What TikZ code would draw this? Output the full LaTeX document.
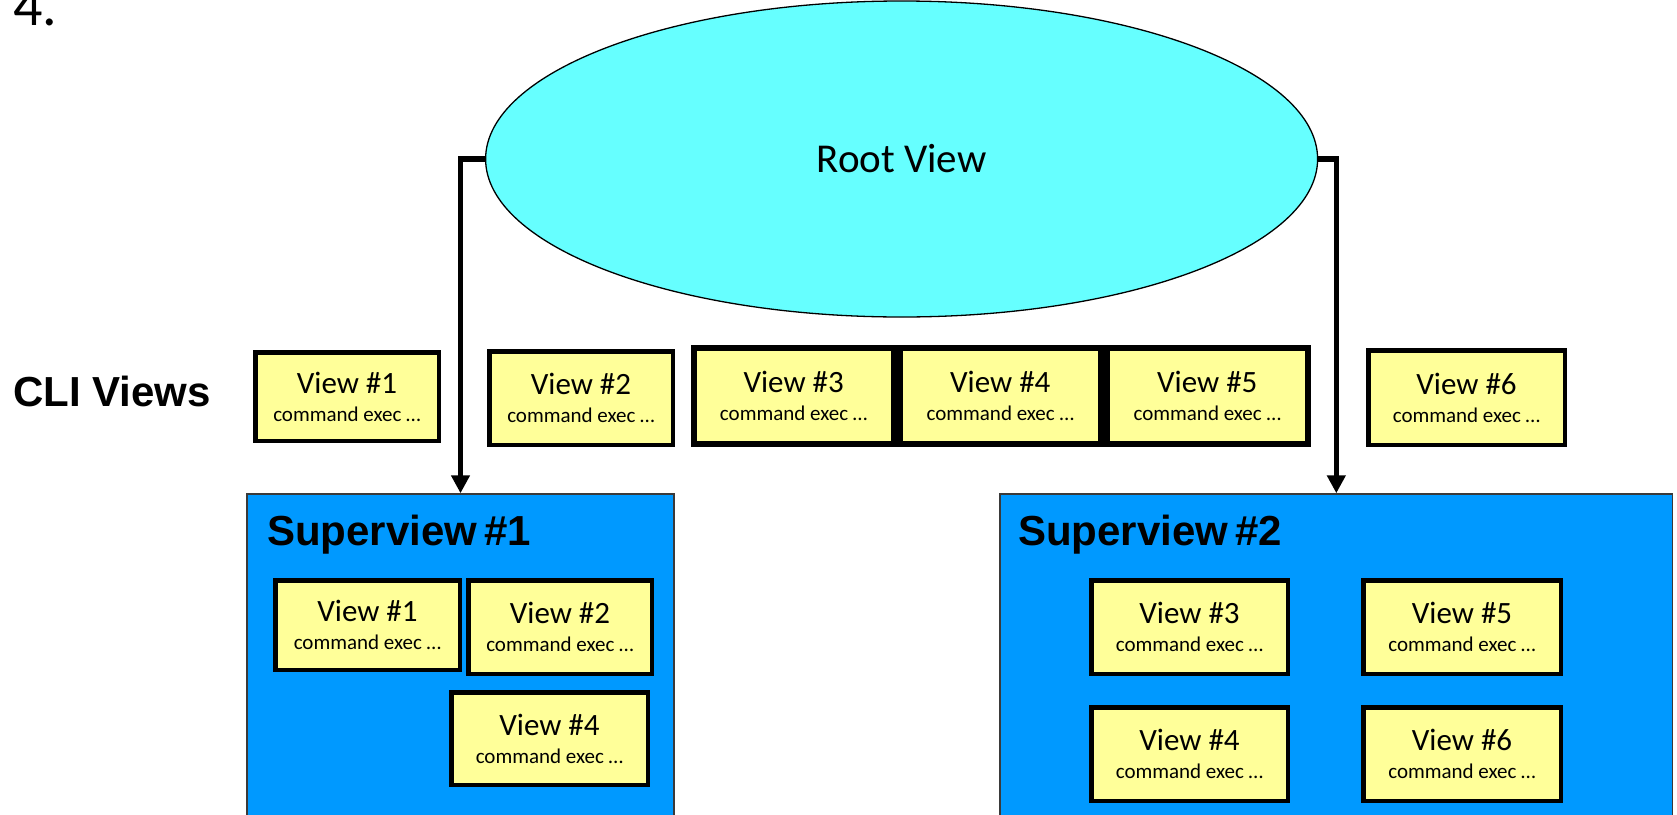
\documentclass[tikz,border=0pt]{standalone}
\usepackage{fontspec}
\setmainfont{Carlito}
\newfontfamily\arialfont{Liberation Sans}
\usetikzlibrary{shapes.geometric,arrows.meta}
\definecolor{rootcyan}{HTML}{66FFFF}
\definecolor{svblue}{HTML}{0099FF}
\definecolor{viewyellow}{HTML}{FFFF99}
\definecolor{svborder}{HTML}{3A3A3A}
\newcommand\vtxt[1]{View \##1\\{\fontsize{21}{28}\selectfont command exec …}}
\tikzset{
  viewbox/.style={draw=black, line width=4.5pt, fill=viewyellow, align=center,
    inner sep=0pt, font=\fontsize{31}{28}\selectfont},
  thickview/.style={viewbox, line width=6pt},
  superbox/.style={draw=svborder, line width=1.5pt, fill=svblue, inner sep=0pt},
  suptitle/.style={font=\arialfont\bfseries\fontsize{42}{48}\selectfont, inner sep=0pt, anchor=base west},
  conn/.style={line width=5.5pt, -{Triangle[width=18pt,length=18pt]}},
}
\begin{document}
\begin{tikzpicture}[x=1pt,y=-1pt]
\useasboundingbox (0,0) rectangle (1677,814);
\clip (0,0) rectangle (1677,814);
% heading
\node[font=\fontsize{58}{60}\selectfont, inner sep=0pt, anchor=base west] (num) at (13,25) {4.};
% root
\node[ellipse, draw=black, line width=1.3pt, fill=rootcyan, minimum width=832pt, minimum height=316pt, inner sep=0pt,
  font=\fontsize{41}{48}\selectfont] (root) at (901.6,159) {Root View};
% superviews
\node[superbox, minimum width=427pt, minimum height=340pt] (sv1) at (460.5,664) {};
\node[superbox, minimum width=672.7pt, minimum height=340pt] (sv2) at (1336.3,664) {};
\node[suptitle] (sv1t) at (267,545) {Superview\,\#1};
\node[suptitle] (sv2t) at (1018,545) {Superview\,\#2};
% CLI views label
\node[font=\arialfont\bfseries\fontsize{42}{48}\selectfont, inner sep=0pt, anchor=base west] (cli) at (13,406) {CLI Views};
% top row
\node[viewbox, minimum width=183.5pt, minimum height=88.5pt] (tv1) at (347,396.5) {\vtxt{1}};
\node[viewbox, minimum width=183.5pt, minimum height=93.5pt] (tv2) at (581,398) {\vtxt{2}};
\node[thickview, minimum width=200pt, minimum height=96pt] (tv3) at (793.7,396) {\vtxt{3}};
\node[thickview, minimum width=201pt, minimum height=96pt] (tv4) at (1000.3,396) {\vtxt{4}};
\node[thickview, minimum width=200.7pt, minimum height=96pt] (tv5) at (1207.3,396) {\vtxt{5}};
\node[viewbox, minimum width=196.5pt, minimum height=94.5pt] (tv6) at (1466.5,397.5) {\vtxt{6}};
% superview 1 contents
\node[viewbox, minimum width=184.5pt, minimum height=89.5pt] (s1v1) at (367.5,625) {\vtxt{1}};
\node[viewbox, minimum width=183.5pt, minimum height=93.5pt] (s1v2) at (560,627) {\vtxt{2}};
\node[viewbox, minimum width=196.5pt, minimum height=92.5pt] (s1v4) at (549.5,738.5) {\vtxt{4}};
% superview 2 contents
\node[viewbox, minimum width=196.5pt, minimum height=93.5pt] (s2v3) at (1189.5,627) {\vtxt{3}};
\node[viewbox, minimum width=197.5pt, minimum height=93.5pt] (s2v5) at (1462,627) {\vtxt{5}};
\node[viewbox, minimum width=196.5pt, minimum height=93.5pt] (s2v4) at (1189.5,754) {\vtxt{4}};
\node[viewbox, minimum width=197.5pt, minimum height=93.5pt] (s2v6) at (1462,754) {\vtxt{6}};
% connectors
\draw[conn] (root.west) -| (sv1.north);
\draw[conn] (root.east) -| (sv2.north);
\end{tikzpicture}
\end{document}
